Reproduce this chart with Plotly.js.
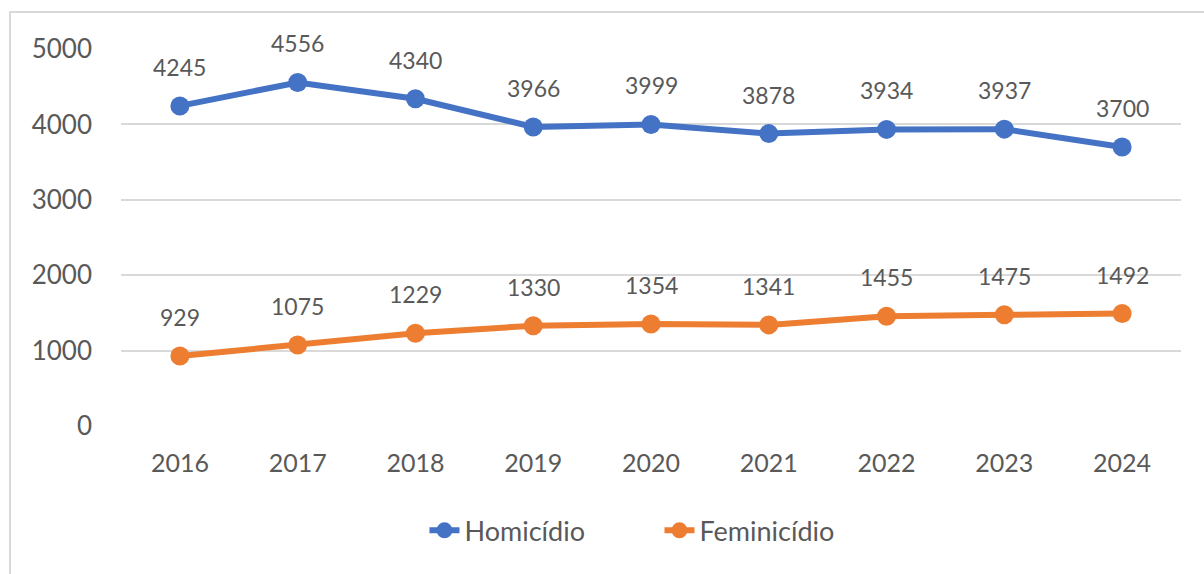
<!DOCTYPE html>
<html>
<head>
<meta charset="utf-8">
<script src="https://cdn.plot.ly/plotly-3.0.1.min.js"></script>
<style>
html,body{margin:0;padding:0;background:#fff;}
#frame{position:absolute;left:9px;top:11px;width:1300px;height:700px;border-left:2px solid #d9d9d9;border-top:2px solid #d9d9d9;}
#chart{position:absolute;left:0;top:0;width:1204px;height:574px;}
</style>
</head>
<body>
<div id="frame"></div>
<div id="chart"></div>
<script>
const years = ['2016','2017','2018','2019','2020','2021','2022','2023','2024'];
const homicidio = [4245, 4556, 4340, 3966, 3999, 3878, 3934, 3937, 3700];
const feminicidio = [929, 1075, 1229, 1330, 1354, 1341, 1455, 1475, 1492];
const yTicks = [0, 1000, 2000, 3000, 4000, 5000];

const FONT = 'Lato, "Open Sans", sans-serif';
const TXT = '#595959';

const traces = [
  {x: years, y: homicidio, name: 'Homicídio', type: 'scatter', mode: 'lines+markers',
   line: {color: '#4472C4', width: 6}, marker: {color: '#4472C4', size: 19}},
  {x: years, y: feminicidio, name: 'Feminicídio', type: 'scatter', mode: 'lines+markers',
   line: {color: '#ED7D31', width: 6}, marker: {color: '#ED7D31', size: 19}}
];

const annotations = [];
[homicidio, feminicidio].forEach(arr => {
  arr.forEach((v, i) => {
    annotations.push({x: i, y: v, xref: 'x', yref: 'y', text: String(v),
      showarrow: false, yshift: 39, font: {family: FONT, size: 23, color: TXT}});
  });
});

const layout = {
  width: 1204, height: 574,
  margin: {l: 121, r: 23, t: 49, b: 148},
  paper_bgcolor: 'rgba(0,0,0,0)', plot_bgcolor: 'rgba(0,0,0,0)',
  showlegend: true,
  legend: {orientation: 'h', x: 0.508, xanchor: 'center', y: -0.278, yanchor: 'middle',
    font: {family: FONT, size: 27, color: TXT}, entrywidth: 190, entrywidthmode: 'pixels'},
  xaxis: {type: 'category', range: [-0.5, 8.5], showgrid: false, zeroline: false,
    showline: false, ticks: '', ticklabelstandoff: 20,
    tickfont: {family: FONT, size: 25, color: TXT}},
  yaxis: {range: [0, 5000], tickvals: yTicks, showgrid: true, gridcolor: '#d9d9d9', gridwidth: 2,
    zeroline: false, showline: false, ticks: '', ticklabelstandoff: 28,
    tickfont: {family: FONT, size: 26, color: TXT}},
  annotations: annotations
};

Plotly.newPlot('chart', traces, layout, {displayModeBar: false, staticPlot: true});
</script>
</body>
</html>
